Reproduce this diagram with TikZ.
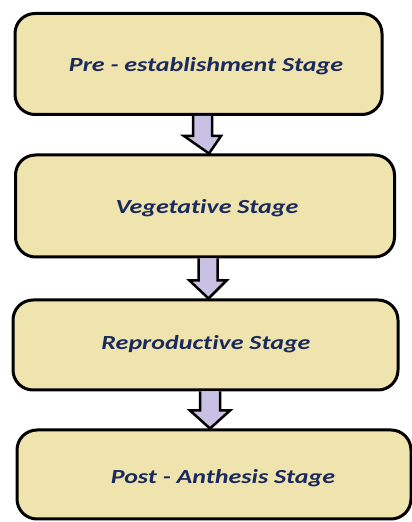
\documentclass[tikz,border=0pt]{standalone}
\usepackage{fontspec}
\setmainfont[Ligatures=NoCommon]{Carlito}
\usetikzlibrary{calc}
\definecolor{boxfill}{HTML}{EFE3AE}
\definecolor{arrowfill}{HTML}{C9C1E3}
\definecolor{txt}{HTML}{1B2A5E}
\newcommand{\widetext}[1]{\scalebox{1.3}[1]{#1}}
\tikzset{
  stagebox/.style={draw=black, line width=3pt, fill=boxfill, rounded corners=20pt, inner sep=0pt},
  stagetext/.style={text=txt, font=\fontsize{20}{24}\selectfont\bfseries\itshape, inner sep=0pt},
  blockarrow/.style={draw=black, line width=2.5pt, fill=arrowfill, line join=miter}
}
\begin{document}
\begin{tikzpicture}[x=1pt,y=1pt]
\useasboundingbox[fill=white] (0,0) rectangle (412,522);
% y_tikz = 522 - y_img
\node[stagebox, minimum width=367pt, minimum height=101pt] (b1) at (198.5,458) {};
\node[stagebox, minimum width=379pt, minimum height=102pt] (b2) at (205,316) {};
\node[stagebox, minimum width=385pt, minimum height=90pt] (b3) at (205.5,177) {};
\node[stagebox, minimum width=394pt, minimum height=89pt] (b4) at (214,47.5) {};
\node[stagetext] (t1) at (206,456) {\widetext{Pre - establishment Stage}};
\node[stagetext] (t2) at (207,314) {\widetext{Vegetative Stage}};
\node[stagetext] (t3) at (206,178) {\widetext{Reproductive Stage}};
\node[stagetext] (t4) at (223,44) {\widetext{Post - Anthesis Stage}};
% arrows between boxes
\path (b1.south) ++(4,0) coordinate (a1s);
\path (b2.north) ++(4,0) coordinate (a1e);
\draw[blockarrow] ($(a1s)+(-9.5,0)$) -- ($(a1s)+(-9.5,-20)$) -- ($(a1s)+(-18.5,-20)$) -- (a1e) -- ($(a1s)+(18.5,-20)$) -- ($(a1s)+(9.5,-20)$) -- ($(a1s)+(9.5,0)$);
\path (b2.south) ++(3,0) coordinate (a2s);
\path (b3.north) ++(3,0) coordinate (a2e);
\draw[blockarrow] ($(a2s)+(-9.5,0)$) -- ($(a2s)+(-9.5,-22)$) -- ($(a2s)+(-18.5,-22)$) -- (a2e) -- ($(a2s)+(18.5,-22)$) -- ($(a2s)+(9.5,-22)$) -- ($(a2s)+(9.5,0)$);
\path (b3.south) ++(4.5,0) coordinate (a3s);
\path (b4.north) ++(-3.5,0) coordinate (a3e);
\draw[blockarrow] ($(a3s)+(-10,0)$) -- ($(a3s)+(-10,-19)$) -- ($(a3s)+(-20,-19)$) -- (a3e -| a3s) -- ($(a3s)+(20,-19)$) -- ($(a3s)+(10,-19)$) -- ($(a3s)+(10,0)$);
\end{tikzpicture}
\end{document}
